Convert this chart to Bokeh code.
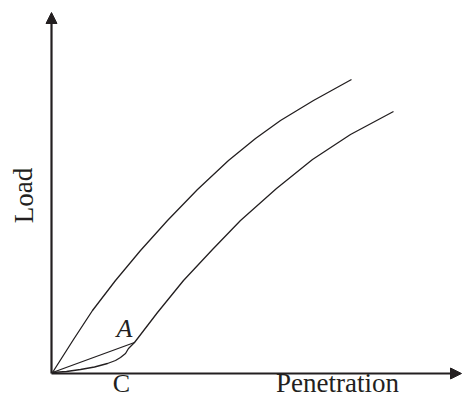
from bokeh.plotting import figure
from bokeh.models import Range1d, Label, Arrow, NormalHead
from bokeh.embed import file_html
from bokeh.resources import INLINE

# Upper curve (loading curve without toe)
upper_x = [0, 21, 40, 63, 88, 115, 145, 176, 203, 228, 261, 299]
upper_y = [0, 33, 62, 92, 122, 152, 183, 212, 234, 252, 272, 293]

# Lower curve with concave-up toe to point A, then main curve
lower_x = [0, 14, 28, 42, 55, 63, 68, 73, 76, 79, 82, 105, 131, 160, 188, 224, 260, 298, 341]
lower_y = [0, 1, 3, 5.5, 9, 12, 15, 19, 24, 27, 30, 60, 92, 123, 152, 184, 213, 238, 261]

# Straight correction line from origin to A
chord_x = [0, 82]
chord_y = [0, 30]

INK = "#231f20"

p = figure(width=462, height=398, output_backend="svg", toolbar_location=None,
           x_range=Range1d(-52, 410), y_range=Range1d(-26, 372),
           min_border=0, outline_line_color=None)
p.axis.visible = False
p.grid.visible = False
p.background_fill_color = "white"
p.border_fill_color = "white"

p.line(upper_x, upper_y, line_color=INK, line_width=1.3, line_join="round")
p.line(lower_x, lower_y, line_color=INK, line_width=1.3, line_join="round")
p.line(chord_x, chord_y, line_color=INK, line_width=1.3)

# Axes with arrowheads
p.add_layout(Arrow(x_start=-1, y_start=-1, x_end=-1, y_end=360,
                   line_color=INK, line_width=2.2,
                   end=NormalHead(size=11, fill_color=INK, line_color=INK, line_width=1)))
p.add_layout(Arrow(x_start=-1, y_start=-1, x_end=409, y_end=-1,
                   line_color=INK, line_width=2.2,
                   end=NormalHead(size=11, fill_color=INK, line_color=INK, line_width=1)))

font = "Liberation Serif"
p.add_layout(Label(x=-29, y=177, text="Load", angle=1.5708, text_font=font,
                   text_font_size="27px", text_color=INK,
                   text_align="center", text_baseline="middle"))
p.add_layout(Label(x=285, y=-25.5, text="Penetration", text_font=font,
                   text_font_size="27px", text_color=INK,
                   text_align="center", text_baseline="bottom"))
p.add_layout(Label(x=69, y=-25.5, text="C", text_font=font,
                   text_font_size="26px", text_color=INK,
                   text_align="center", text_baseline="bottom"))
p.add_layout(Label(x=72, y=44, text="A", text_font=font, text_font_style="italic",
                   text_font_size="26px", text_color=INK,
                   text_align="center", text_baseline="middle"))

open("out.html", "w").write(file_html(p, INLINE))
